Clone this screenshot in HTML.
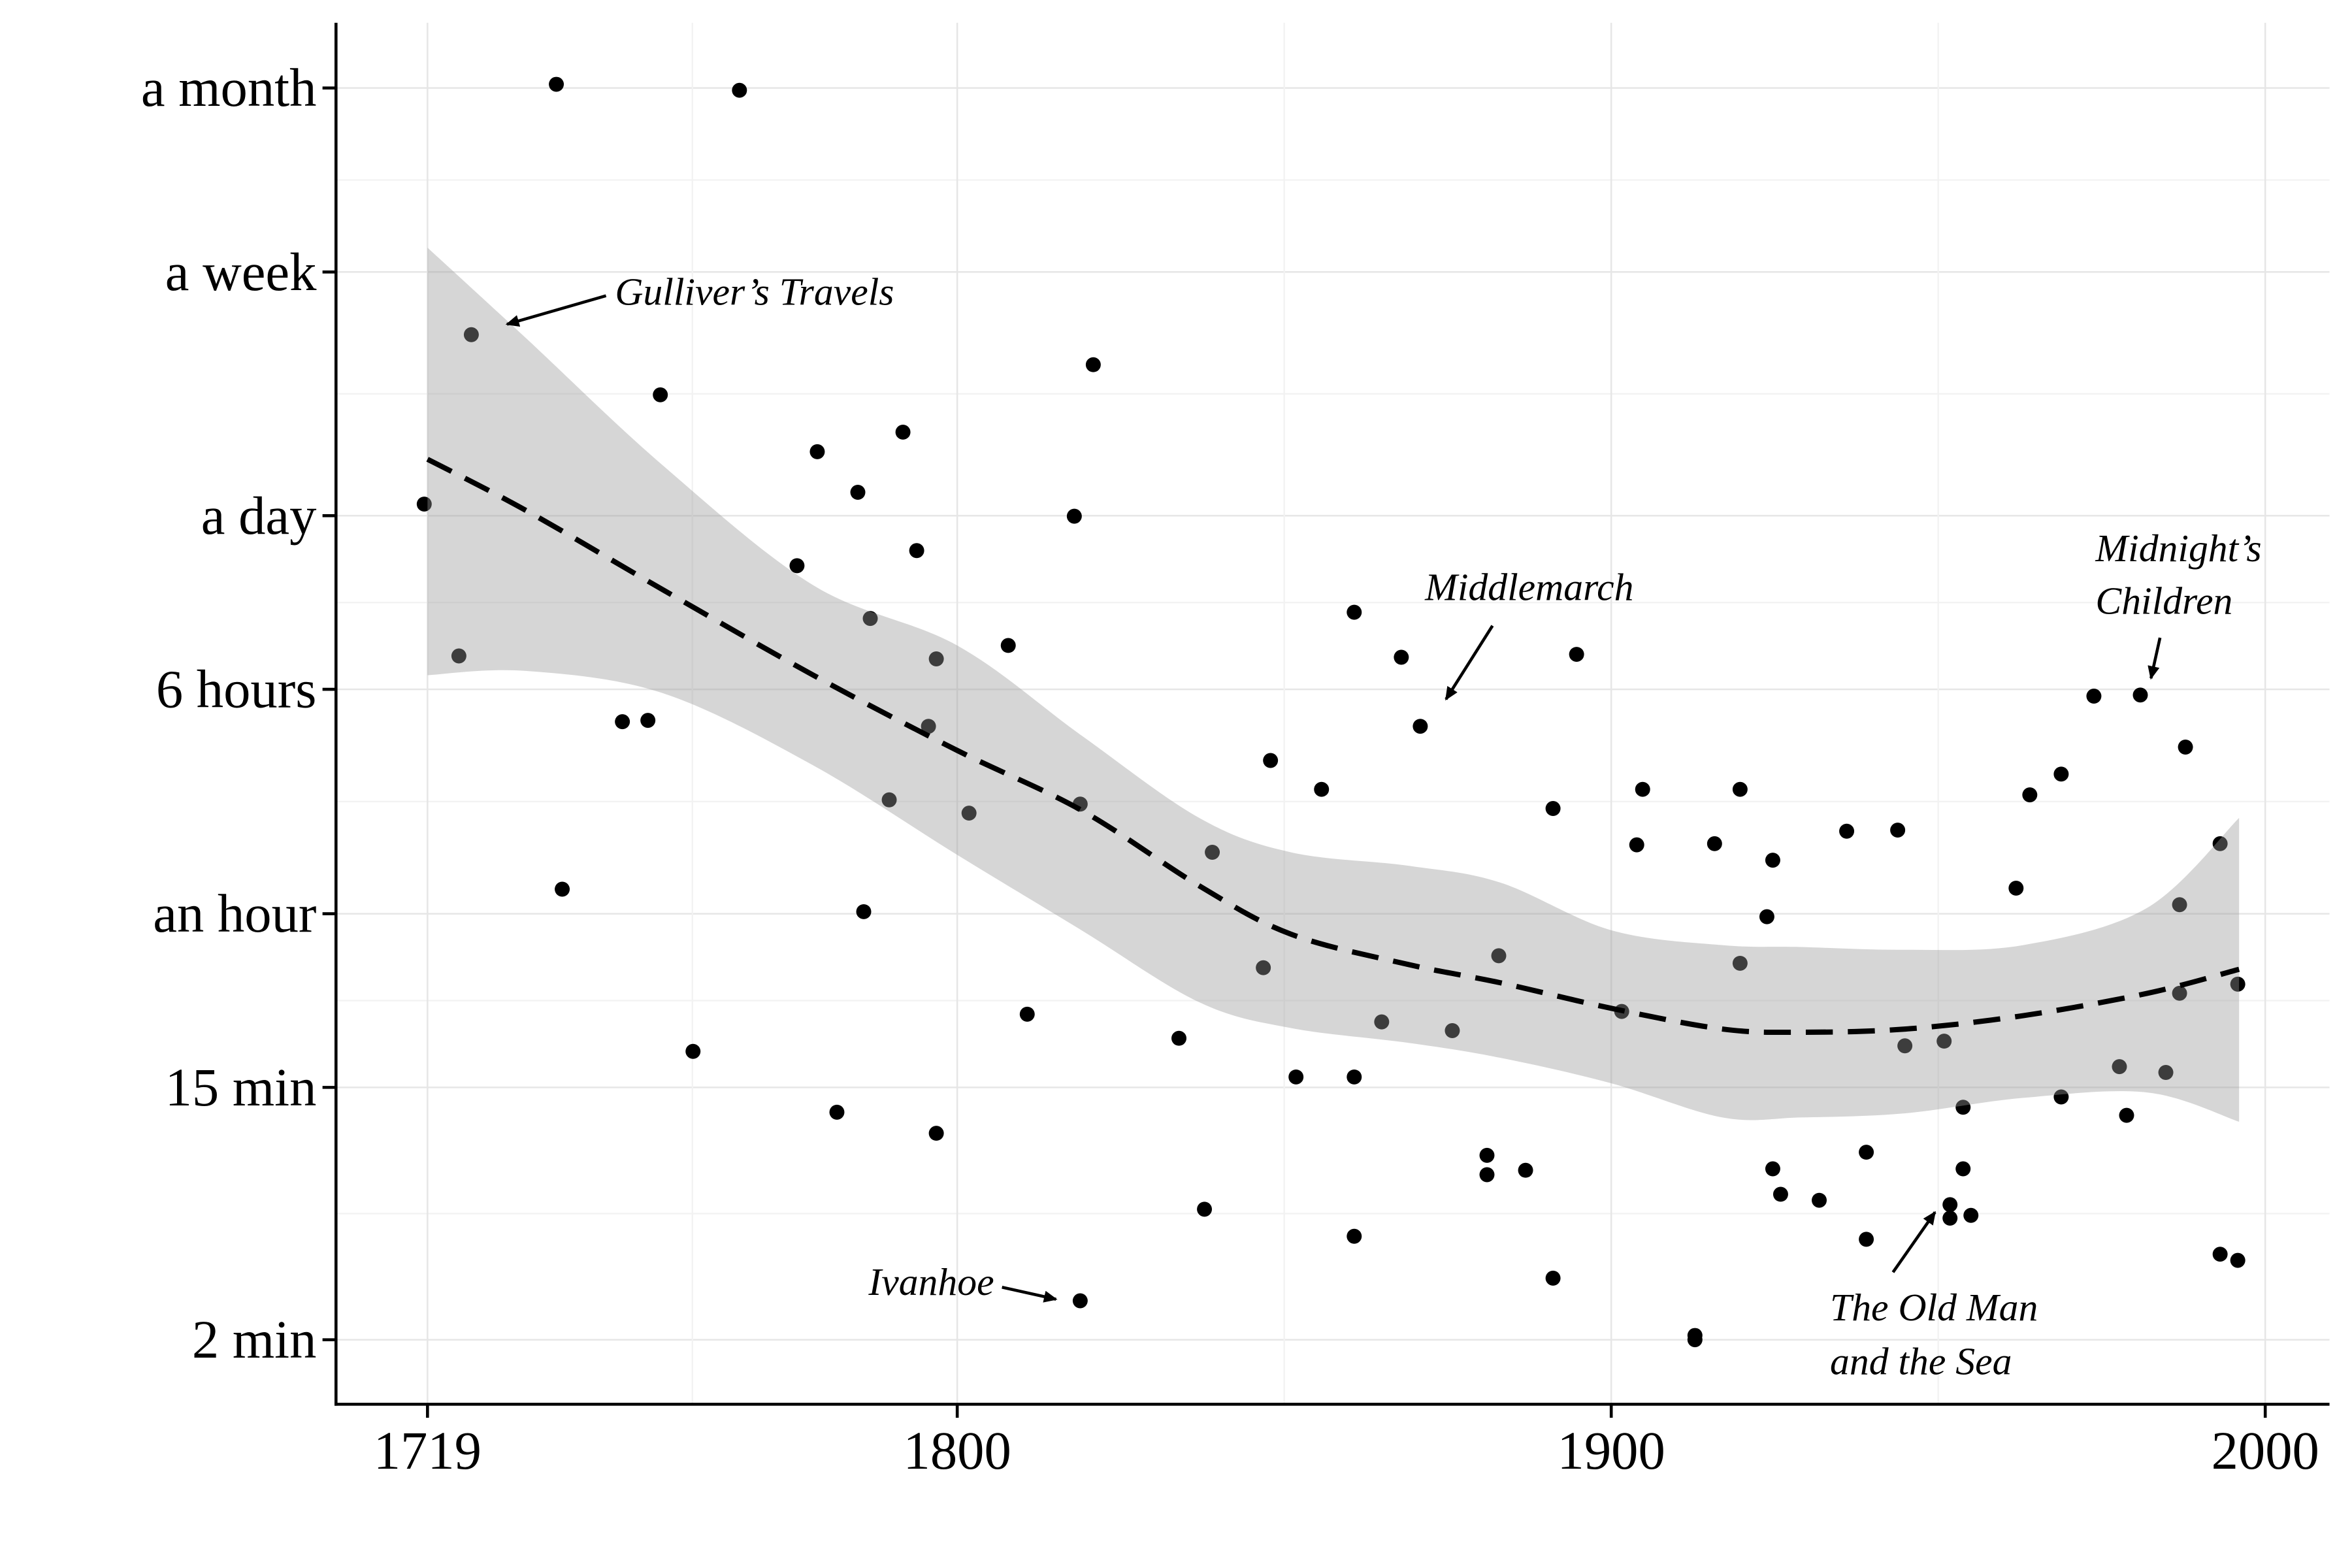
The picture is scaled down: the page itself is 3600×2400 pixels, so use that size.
<!DOCTYPE html>
<html><head><meta charset="utf-8">
<style>
html,body{margin:0;padding:0;background:#fff;}
svg{display:block;}
text{font-family:"Liberation Serif",serif;fill:#000;}
</style></head>
<body>
<svg id="chart" width="3600" height="2400" viewBox="0 0 1568 1045" xmlns="http://www.w3.org/2000/svg">
<rect x="0" y="0" width="1568" height="1045" fill="#fff"/>
<g id="grid"></g>
<g id="points"></g>
<g id="ribbon"></g>
<g id="trend"></g>
<g id="axes"></g>
<g id="annotations" font-style="italic" font-size="26">
  <text x="410" y="203">Gulliver’s Travels</text>
  <text x="950" y="400">Middlemarch</text>
  <text x="1397" y="374">Midnight’s</text>
  <text x="1397" y="409">Children</text>
  <text x="579" y="863">Ivanhoe</text>
  <text x="1220" y="880">The Old Man</text>
  <text x="1220" y="916">and the Sea</text>
</g>
<defs><marker id="ah" markerWidth="10" markerHeight="10" refX="8" refY="4" orient="auto" markerUnits="userSpaceOnUse"><path d="M0,0 L9,4 L0,8 Z" fill="#000"/></marker></defs>
<g id="arrows" stroke="#000" stroke-width="2" marker-end="url(#ah)">
  <line x1="404" y1="197" x2="338" y2="216"/>
  <line x1="995" y1="417" x2="964" y2="466"/>
  <line x1="1440" y1="425" x2="1434" y2="452"/>
  <line x1="668" y1="858" x2="704" y2="866"/>
  <line x1="1262" y1="848" x2="1290" y2="808"/>
</g>
</svg>
<script>
// ---- data ----
const pointYears = [1738.7,1766.7,1725.7,1754.6,1718.5,1723.8,1739.6,1748.8,1752.7,1759.6,1778.6,1784.8,1791.7,1775.5,1786.7,1793.8,1796.8,1795.6,1789.6,1785.7,1781.6,1796.8,1801.8,1807.8,1810.7,1817.9,1820.8,1818.8,1818.8,1833.9,1837.8,1839,1846.8,1847.9,1851.8,1855.7,1860.7,1860.7,1860.7,1864.9,1867.9,1870.8,1875.7,1881,1881,1886.9,1882.8,1891.1,1891.1,1894.7,1901.6,1903.9,1904.8,1912.8,1912.8,1915.8,1919.7,1919.7,1923.8,1924.7,1924.7,1925.9,1931.8,1936,1939,1939,1943.8,1944.9,1950.9,1951.8,1951.8,1955,1953.8,1953.8,1961.9,1964,1968.8,1968.8,1973.8,1980.9,1977.7,1978.8,1984.8,1986.9,1986.9,1987.8,1993.1,1993.1,1995.8,1995.8];
const pointMinutes = [45100,43000,6110,3780,1580,470,73,278,281,20,2400,1736,2806,966,634,1090,459,268,149,61,12.3,10.4,134,511,26.9,1434,4808,144,2.73,22.2,5.67,98,39,204,16.3,162,666,16.3,4.57,25.3,465,268,23.6,8.72,7.47,7.74,42.9,139,3.27,476,27.5,104,162,2.07,2.0,105,162,40.4,58.6,92,7.83,6.39,6.09,116,8.94,4.46,117,20.9,21.7,5.88,5.28,5.4,12.8,7.83,73.6,155,183,13.9,341,344,17.7,12,16.9,64.5,31.8,227,105,3.96,34.2,3.77];
const trendYears = [1719,1734,1755,1778,1800,1819,1837,1851,1869,1883,1900,1917,1929,1945,1963,1982,1996];
const trendFit = [2260,1504,797,403,221,137,75,51,40,34.6,28.2,23.9,23.3,23.9,26.6,31.8,38.5];
const trendUpper = [12240,5960,2150,826,511,249,129,98,88,77,52.6,46.7,46,45,46.7,63,129];
const trendLower = [403,417,349,196,96,52.6,29.6,24.1,21.4,19,15.5,11.8,11.8,12.2,13.8,14.4,11.4];
const yTickValues = [2,15,60,360,1440,10080,43800];
const yTickLabels = ["2 min","15 min","an hour","6 hours","a day","a week","a month"];
const xTickValues = [1719,1800,1900,2000];
const xTickLabels = ["1719","1800","1900","2000"];

// ---- scales ----
const PL=224, PR=1553, PT=15, PB=936;
function xS(y){ return 285 + (y-1719)*4.36; }
function yS(m){ return 893 - 83.5*Math.log(m/2); }
const NS="http://www.w3.org/2000/svg";
function mk(tag, attrs, parent){ const e=document.createElementNS(NS,tag); for(const k in attrs) e.setAttribute(k,attrs[k]); parent.appendChild(e); return e; }

// grid
const grid=document.getElementById('grid');
for(let i=0;i<yTickValues.length;i++){
  const y=yS(yTickValues[i]);
  const l=mk('line',{x1:PL,x2:PR,y1:y,y2:y,stroke:'#e6e6e6','stroke-width':1.1},grid);
  
  
  if(i<yTickValues.length-1){
    const ym=yS(Math.sqrt(yTickValues[i]*yTickValues[i+1]));
    const l2=mk('line',{x1:PL,x2:PR,y1:ym,y2:ym,stroke:'#f2f2f2','stroke-width':1},grid);
    
    
  }
}
for(let i=0;i<xTickValues.length;i++){
  const x=xS(xTickValues[i]);
  const l=mk('line',{x1:x,x2:x,y1:PT,y2:PB,stroke:'#e6e6e6','stroke-width':1.1},grid);
  
  
  if(i<xTickValues.length-1){
    const xm=xS((xTickValues[i]+xTickValues[i+1])/2);
    const l2=mk('line',{x1:xm,x2:xm,y1:PT,y2:PB,stroke:'#f2f2f2','stroke-width':1},grid);
    
    
  }
}

// points
const pg=document.getElementById('points');
for(let i=0;i<pointYears.length;i++){
  const c=mk('circle',{cx:xS(pointYears[i]),cy:yS(pointMinutes[i]),r:5,fill:'#000'},pg);
  
  
}

// smooth path helper (catmull-rom)
function smooth(pts){
  let d='M'+pts[0][0]+','+pts[0][1];
  for(let i=0;i<pts.length-1;i++){
    const p0=pts[Math.max(0,i-1)],p1=pts[i],p2=pts[i+1],p3=pts[Math.min(pts.length-1,i+2)];
    const c1x=p1[0]+(p2[0]-p0[0])/6,c1y=p1[1]+(p2[1]-p0[1])/6;
    const c2x=p2[0]-(p3[0]-p1[0])/6,c2y=p2[1]-(p3[1]-p1[1])/6;
    d+=' C'+c1x+','+c1y+' '+c2x+','+c2y+' '+p2[0]+','+p2[1];
  }
  return d;
}
const up=trendYears.map((y,i)=>[xS(y),yS(trendUpper[i])]);
const lo=trendYears.map((y,i)=>[xS(y),yS(trendLower[i])]).reverse();
const dUp=smooth(up);
const dLo=smooth(lo).replace(/^M/,' L');
const rib=mk('path',{d:dUp+dLo+' Z',fill:'#999999','fill-opacity':0.4,stroke:'none'},document.getElementById('ribbon'));


const fit=trendYears.map((y,i)=>[xS(y),yS(trendFit[i])]);
const tl=mk('path',{d:smooth(fit),fill:'none',stroke:'#000','stroke-width':3.5,'stroke-dasharray':'18 10'},document.getElementById('trend'));



// axes
const ax=document.getElementById('axes');
const yl=mk('line',{x1:PL,x2:PL,y1:PT,y2:PB+1,stroke:'#000','stroke-width':2},ax);


const xl=mk('line',{x1:PL-1,x2:PR,y1:PB,y2:PB,stroke:'#000','stroke-width':2},ax);


for(let i=0;i<yTickValues.length;i++){
  const y=yS(yTickValues[i]);
  const t=mk('line',{x1:PL-9,x2:PL,y1:y,y2:y,stroke:'#000','stroke-width':2},ax);
  
  
  const tx=mk('text',{x:211,y:y+12,'text-anchor':'end','font-size':36},ax);
  tx.textContent=yTickLabels[i];
  
  
}
for(let i=0;i<xTickValues.length;i++){
  const x=xS(xTickValues[i]);
  const t=mk('line',{x1:x,x2:x,y1:PB,y2:PB+9,stroke:'#000','stroke-width':2},ax);
  
  
  const tx=mk('text',{x:x,y:979,'text-anchor':'middle','font-size':36},ax);
  tx.textContent=xTickLabels[i];
  
  
}
</script>
</body></html>
